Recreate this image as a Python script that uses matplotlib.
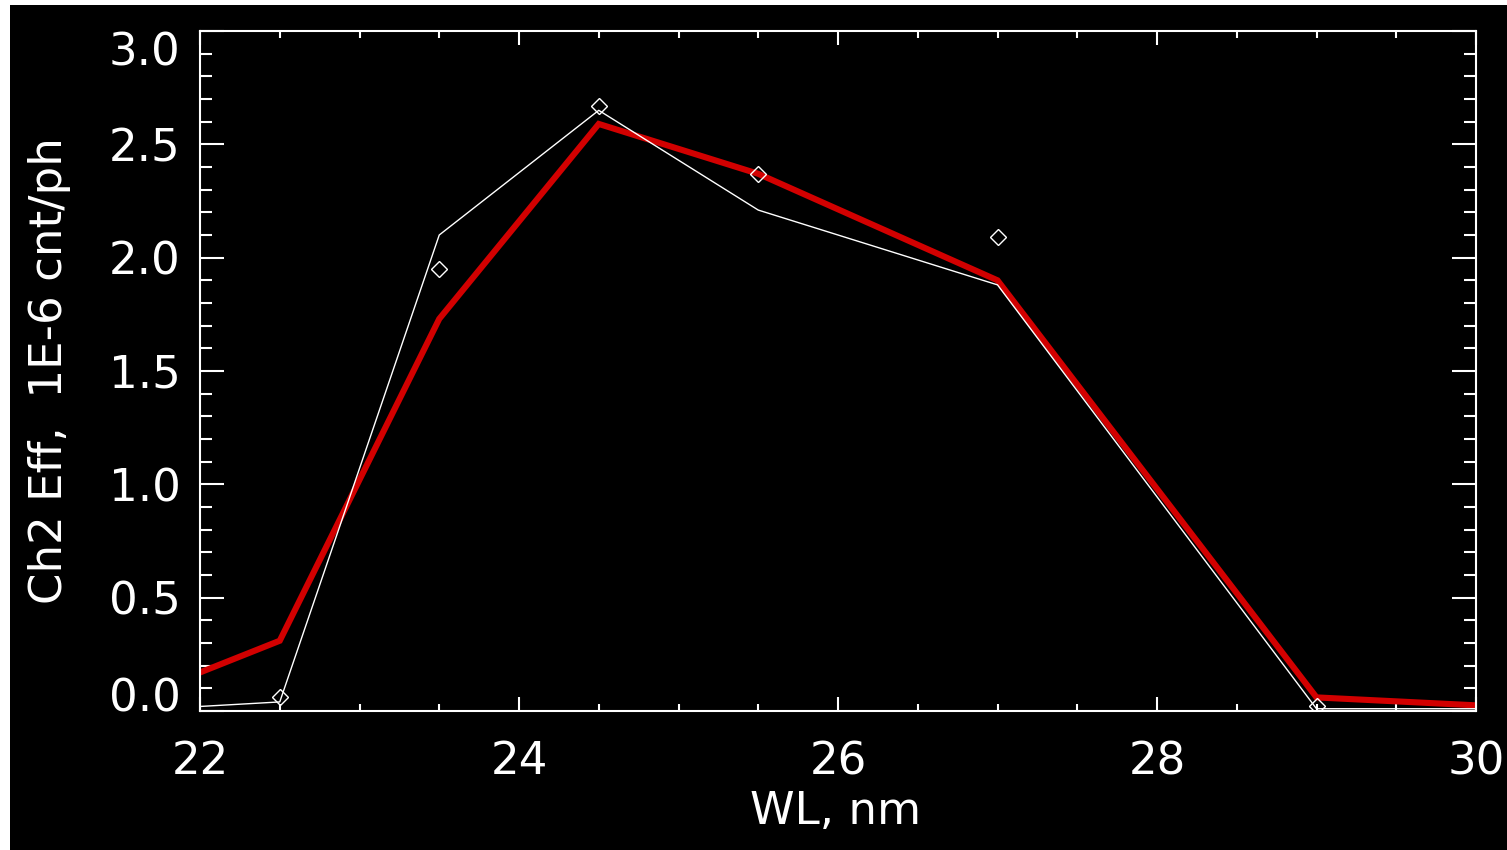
import matplotlib
matplotlib.use('Agg')
import matplotlib.pyplot as plt
from matplotlib.patches import Rectangle
from matplotlib.ticker import MultipleLocator, FormatStrFormatter

# wavelength grid, nm
wl = [22.0, 22.5, 23.5, 24.5, 25.5, 27.0, 29.0, 30.0]
# measured efficiency curve (thin white line)
eff_meas = [0.02, 0.04, 2.10, 2.65, 2.21, 1.88, 0.01, 0.01]
# model efficiency curve (thick red line)
eff_model = [0.17, 0.31, 1.73, 2.59, 2.37, 1.90, 0.06, 0.025]
# individual calibration points (diamonds)
wl_pts = [22.5, 23.5, 24.5, 25.5, 27.0, 29.0]
eff_pts = [0.06, 1.95, 2.67, 2.37, 2.09, 0.02]

FG = 'white'
RED = '#d20000'
FS = 32.5

fig = plt.figure(figsize=(15.07, 8.5), dpi=100, facecolor='white')
# black plotting window leaves a thin white strip at top and left
fig.patches.append(Rectangle((10 / 1507, 0), 1, 1 - 5 / 850, transform=fig.transFigure,
                             facecolor='black', edgecolor='none', zorder=-10))

ax = fig.add_axes([200 / 1507, 1 - 711 / 850, 1276 / 1507, 680 / 850])
ax.set_facecolor('black')

ax.plot(wl, eff_model, color=RED, lw=4.4, solid_joinstyle='miter', zorder=2)
ax.plot(wl, eff_meas, color=FG, lw=1.0, zorder=3)
ax.plot(wl_pts, eff_pts, ls='none', marker='D', ms=8, mfc='none', mec=FG, mew=1.0, zorder=4)

ax.set_xlim(22, 30)
ax.set_ylim(0, 3.0)
ax.xaxis.set_major_locator(MultipleLocator(2))
ax.xaxis.set_minor_locator(MultipleLocator(0.5))
ax.yaxis.set_major_locator(MultipleLocator(0.5))
ax.yaxis.set_minor_locator(MultipleLocator(0.1))
ax.yaxis.set_major_formatter(FormatStrFormatter('%.1f'))

for s in ax.spines.values():
    s.set_color(FG)
    s.set_linewidth(1.5)

ax.tick_params(axis='both', which='both', direction='in', colors=FG, width=1.5,
               top=True, right=True, labelsize=FS)
ax.tick_params(axis='x', which='major', length=9.8, pad=21)
ax.tick_params(axis='x', which='minor', length=4.8)
ax.tick_params(axis='y', which='major', length=17.5, pad=14)
ax.tick_params(axis='y', which='minor', length=8.8)

# keep the end labels of the y axis inside the frame
fig.canvas.draw()
for lab in ax.get_yticklabels():
    if lab.get_text() == '0.0':
        lab.set_va('baseline')
    elif lab.get_text() == '3.0':
        lab.set_va('top')

ax.set_xlabel('WL, nm', fontsize=FS, color=FG, va='center')
ax.xaxis.set_label_coords(0.4977, -0.1485)
ax.set_ylabel('Ch2 Eff,  1E-6 cnt/ph', fontsize=FS, color=FG, va='center', ha='center')
ax.yaxis.set_label_coords(-0.1176, 0.5)

fig.savefig('out.png', dpi=100, facecolor=fig.get_facecolor())
